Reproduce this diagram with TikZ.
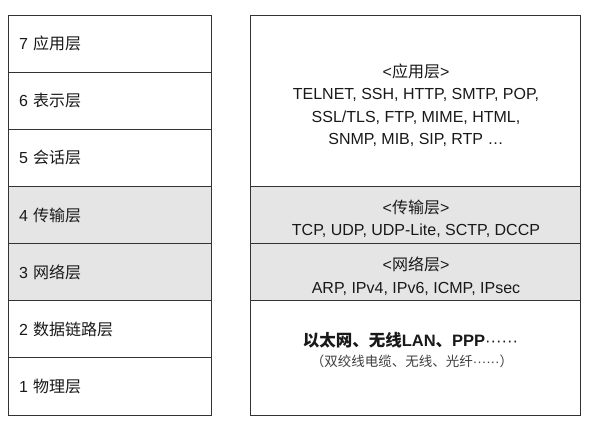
\documentclass[tikz,border=0pt]{standalone}
\usepackage{fontspec}
\setmainfont{Liberation Sans}
\newfontfamily\cjk{Noto Sans CJK SC}
\begin{document}
\begin{tikzpicture}[x=1pt,y=-1pt,
  frame/.style={draw=black!80,line width=0.8pt,rectangle,inner sep=0pt,outer sep=0pt},
  lbox/.style={frame,minimum width=203pt,minimum height=57.14pt,text width=181pt,inner xsep=11pt,align=left,
    font=\fontsize{16}{18}\selectfont,text=black!90},
  shade/.style={fill=black!10},
  rtext/.style={align=center,font=\fontsize{16}{22.5}\selectfont,text=black!90,inner sep=0pt}
]
\useasboundingbox[fill=white] (0,0) rectangle (594,429);
% left OSI stack
\node[lbox] (l7) at (109.5,43.57) {7 {\cjk 应用层}};
\node[lbox] (l6) at (109.5,100.71) {6 {\cjk 表示层}};
\node[lbox] (l5) at (109.5,157.86) {5 {\cjk 会话层}};
\node[lbox,shade] (l4) at (109.5,215) {4 {\cjk 传输层}};
\node[lbox,shade] (l3) at (109.5,272.14) {3 {\cjk 网络层}};
\node[lbox] (l2) at (109.5,329.29) {2 {\cjk 数据链路层}};
\node[lbox] (l1) at (109.5,386.43) {1 {\cjk 物理层}};
% right TCP/IP stack
\node[frame,minimum width=330pt,minimum height=171.43pt] (rapp) at (415.5,100.71) {};
\node[frame,shade,minimum width=330pt,minimum height=57.14pt] (rtrans) at (415.5,215) {};
\node[frame,shade,minimum width=330pt,minimum height=57.14pt] (rnet) at (415.5,272.14) {};
\node[frame,minimum width=330pt,minimum height=114.29pt] (rlink) at (415.5,357.86) {};
% texts
\node[rtext] (tapp) at (416,105) {<{\cjk 应用层}>\\TELNET, SSH, HTTP, SMTP, POP,\\SSL/TLS, FTP, MIME, HTML,\\SNMP, MIB, SIP, RTP \dots};
\node[rtext] (ttrans) at (416,219) {<{\cjk 传输层}>\\TCP, UDP, UDP-Lite, SCTP, DCCP};
\node[rtext] (tnet) at (416,276) {<{\cjk 网络层}>\\ARP, IPv4, IPv6, ICMP, IPsec};
\node[rtext,font=\fontsize{16.5}{18}\selectfont\bfseries] (tlink1) at (410.5,340) {{\cjk\bfseries 以太网、无线}LAN{\cjk\bfseries 、}PPP{\mdseries ······}};
\node[rtext,font=\fontsize{13.5}{15}\selectfont,text=black!75] (tlink2) at (412,361) {{\cjk （双绞线电缆、无线、光纤}······{\cjk ）}};
\end{tikzpicture}
\end{document}
